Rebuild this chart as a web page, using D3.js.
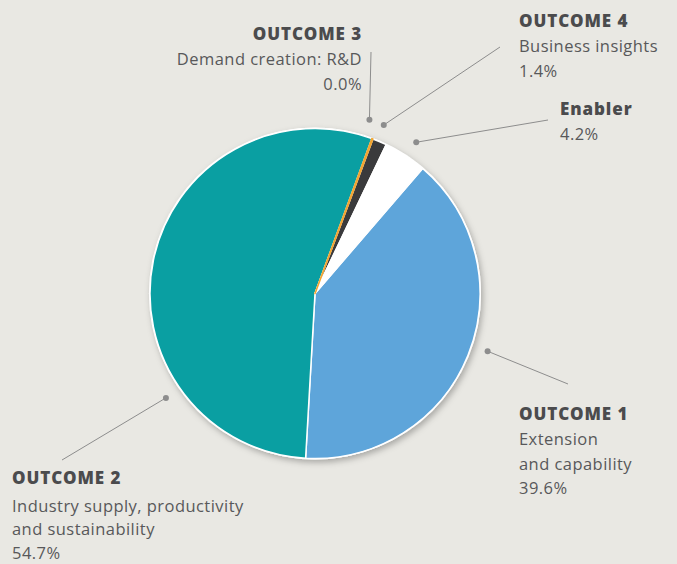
<!DOCTYPE html>
<html>
<head>
<meta charset="utf-8">
<script src="https://cdn.jsdelivr.net/npm/d3@7"></script>
<style>
    body { margin: 0; background: #e9e8e3; }
    #chart text { font-family: "Open Sans", sans-serif; }
</style>
</head>
<body>
<div id="chart"></div>
<script>

// funding split by outcome, clockwise from the Outcome 1 slice
const categories = ["OUTCOME 1", "OUTCOME 2", "OUTCOME 3", "OUTCOME 4", "Enabler"];
const descriptions = [["Extension", "and capability"], ["Industry supply, productivity", "and sustainability"],
    ["Demand creation: R&D"], ["Business insights"], []];
const shares = [39.6, 54.7, 0.1, 1.4, 4.2];   // Outcome 3 is a sliver, printed as 0.0%
const shareLabels = ["39.6%", "54.7%", "0.0%", "1.4%", "4.2%"];
const sliceColors = ["#5ea5da", "#0a9fa2", "#f3a531", "#3a3a3c", "#ffffff"];

const width = 677, height = 564;
const cx = 315, cy = 293.5, radius = 165;

// where each callout sits: dot angle on the ring, end of the leader line, text block
const callouts = [
    {angle: 108.5, end: [568, 384], x: 519, y: 420, anchor: "start"},
    {angle: 235, end: [62, 460], x: 12, y: 484, anchor: "start"},
    {angle: 17.4, end: [371, 52], x: 362, y: 40, anchor: "end"},
    {angle: 22.2, end: [500, 47], x: 519, y: 27, anchor: "start"},
    {angle: 33.8, end: [548, 120], x: 560, y: 115, anchor: "start"}
];

let svg = d3.select("#chart").append("svg")
    .attr("width", width)
    .attr("height", height);

let defs = svg.append("defs");
let shadow = defs.append("filter")
    .attr("id", "pieShadow")
    .attr("x", "-20%").attr("y", "-20%")
    .attr("width", "140%").attr("height", "140%");
shadow.append("feDropShadow")
    .attr("dx", 2)
    .attr("dy", 3)
    .attr("stdDeviation", 3)
    .attr("flood-color", "#000")
    .attr("flood-opacity", 0.28);

let start = 40.7 * Math.PI / 180;
let pie = d3.pie()
    .sort(null)
    .startAngle(start)
    .endAngle(start + 2 * Math.PI);

let arc = d3.arc().innerRadius(0).outerRadius(radius);

let pieG = svg.append("g")
    .attr("transform", "translate(" + cx + "," + cy + ")");

// white disc underneath carries the shadow and the rim
pieG.append("circle")
    .attr("r", radius + 1)
    .attr("fill", "#fff")
    .attr("filter", "url(#pieShadow)");

let slices = pieG.selectAll("path.slice")
    .data(pie(shares))
    .enter()
    .append("path")
    .attr("class", "slice")
    .attr("d", arc)
    .attr("fill", (d, i) => sliceColors[i])
    .attr("stroke", (d, i) => i == 2 ? sliceColors[i] : "#fff")
    .attr("stroke-width", (d, i) => i == 2 ? 1.6 : 1.5)
    .attr("stroke-linejoin", "round");

// the sliver would vanish under its neighbours' white strokes, so lift it
slices.filter((d, i) => i == 2).raise();

// leader lines
let dotR = 182;
let lineG = svg.append("g");
callouts.forEach(function(c) {
    let a = c.angle * Math.PI / 180;
    let px = cx + dotR * Math.sin(a), py = cy - dotR * Math.cos(a);
    lineG.append("line")
        .attr("x1", px).attr("y1", py)
        .attr("x2", c.end[0]).attr("y2", c.end[1])
        .attr("stroke", "#8d8d8d")
        .attr("stroke-width", 1);
    lineG.append("circle")
        .attr("cx", px).attr("cy", py)
        .attr("r", 3)
        .attr("fill", "#8d8d8d");
});

// text blocks
let labelG = svg.append("g");
categories.forEach(function(name, i) {
    let c = callouts[i];
    let t = labelG.append("g")
        .attr("text-anchor", c.anchor);
    t.append("text")
        .attr("x", c.x).attr("y", c.y)
        .attr("font-size", 17)
        .attr("font-weight", 800)
        .attr("letter-spacing", 0.9)
        .attr("fill", "#4b4b4d")
        .text(name);
    let lines = descriptions[i].concat([shareLabels[i]]);
    let gap = i == 1 ? 27.5 : 25;
    let step = i == 1 ? 23.5 : 24.5;
    lines.forEach(function(s, j) {
        t.append("text")
            .attr("x", c.x)
            .attr("y", c.y + gap + j * step)
            .attr("font-size", 16.5)
            .attr("letter-spacing", 0.45)
            .attr("fill", "#58585a")
            .text(s);
    });
});

</script>
</body>
</html>
